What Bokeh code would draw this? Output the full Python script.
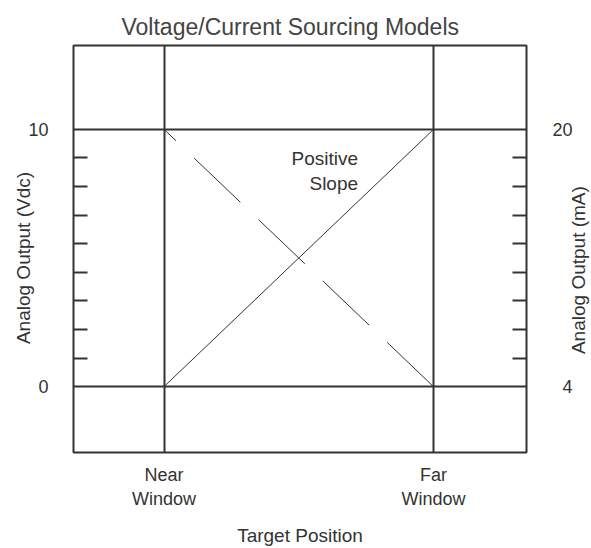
import math
import numpy as np
from bokeh.plotting import figure
from bokeh.layouts import row
from bokeh.models import Range1d, LinearAxis, FixedTicker, Label
from bokeh.core.properties import value
from bokeh.embed import file_html
from bokeh.resources import INLINE

# ---- data ----
positions = [0, 1]                       # Near window, Far window
position_labels = ["Near\nWindow", "Far\nWindow"]
volt_ticks = [0, 10]                     # Vdc
volt_labels = ["0", "10"]
ma_ticks = [4, 20]                       # mA
ma_labels = ["4", "20"]
positive_slope_x = [0, 1]
positive_slope_y = [0, 10]
negative_slope_x = [1, 0]
negative_slope_y = [0, 10]
note_text = "Positive\nSlope"
note_x = [0.72]
note_y = [8.39]

FONT = "Liberation Sans"
DARK = "#333333"

X_LO, X_HI = -0.336, 1.345
Y_LO, Y_HI = -2.56, 13.26
y_range = Range1d(Y_LO, Y_HI)

# ---- main chart ----
p = figure(width=457, height=548,
           min_border_left=2, min_border_right=2, min_border_top=45, min_border_bottom=95,
           x_range=Range1d(X_LO, X_HI), y_range=y_range,
           output_backend="svg", toolbar_location=None, tools="",
           x_axis_location=None, y_axis_location=None,
           title="Voltage/Current Sourcing Models")

p.background_fill_color = "white"
p.border_fill_color = "white"
p.outline_line_color = DARK
p.outline_line_width = 2

p.title.text_font = FONT
p.title.text_font_size = "23px"
p.title.text_font_style = "normal"
p.title.text_color = "#444444"
p.title.align = "left"
p.title.offset = 48
p.title.standoff = 12

# mA scale shares the same pixel positions: 4 mA <-> 0 V, 20 mA <-> 10 V
scale = (ma_ticks[1] - ma_ticks[0]) / (volt_ticks[1] - volt_ticks[0])
p.extra_y_ranges = {"ma": Range1d(ma_ticks[0] + Y_LO * scale, ma_ticks[0] + Y_HI * scale)}

v_minor = list(np.linspace(volt_ticks[0], volt_ticks[1], 10)[1:-1])
ma_minor = list(np.linspace(ma_ticks[0], ma_ticks[1], 10)[1:-1])

def style_axis(ax):
    ax.axis_line_color = None
    ax.major_tick_in = 0
    ax.major_tick_out = 0
    ax.minor_tick_in = 14
    ax.minor_tick_out = 0
    ax.minor_tick_line_color = DARK
    ax.minor_tick_line_width = 2
    ax.major_label_text_font = FONT
    ax.major_label_text_font_size = "18px"
    ax.major_label_text_color = DARK
    ax.axis_label_text_font = FONT
    ax.axis_label_text_font_size = "19px"
    ax.axis_label_text_font_style = "normal"
    ax.axis_label_text_color = DARK

# vertical axes: only the inward minor ticks are drawn here, their labels sit in the side strips
left = LinearAxis(ticker=FixedTicker(ticks=[], minor_ticks=v_minor))
style_axis(left)
left.major_label_standoff = 0
p.add_layout(left, "left")

right = LinearAxis(y_range_name="ma",
                   ticker=FixedTicker(ticks=[], minor_ticks=ma_minor))
style_axis(right)
right.major_label_standoff = 0
p.add_layout(right, "right")

bottom = LinearAxis(ticker=FixedTicker(ticks=positions),
                    axis_label="Target Position")
style_axis(bottom)
bottom.minor_tick_in = 0
bottom.major_label_overrides = {k: v for k, v in zip(positions, position_labels)}
bottom.major_label_standoff = 12
bottom.axis_label_standoff = 13
p.add_layout(bottom, "below")

p.xgrid.ticker = FixedTicker(ticks=positions)
p.ygrid.ticker = FixedTicker(ticks=volt_ticks)
for g in (p.xgrid, p.ygrid):
    g.grid_line_color = DARK
    g.grid_line_width = 2
    g.grid_line_alpha = 1

p.line(positive_slope_x, positive_slope_y, line_color=DARK, line_width=1)
p.line(negative_slope_x, negative_slope_y, line_color=DARK, line_width=1, line_dash="64 25")

p.add_layout(Label(x=note_x[0], y=note_y[0], text=note_text, text_align="right",
                   text_baseline="middle", text_font=FONT, text_font_size="19px",
                   text_color=DARK))

# ---- side strips carrying tick labels and axis titles ----
def strip(width):
    s = figure(width=width, height=548, x_range=Range1d(0, width), y_range=y_range,
               min_border_left=0, min_border_right=0, min_border_top=45, min_border_bottom=95,
               output_backend="svg", toolbar_location=None, tools="",
               x_axis_location=None, y_axis_location=None)
    s.outline_line_color = None
    s.background_fill_color = "white"
    s.border_fill_color = "white"
    s.xgrid.visible = False
    s.ygrid.visible = False
    return s

left_strip = strip(71)
left_strip.text(x=[48] * len(volt_ticks), y=volt_ticks, text=volt_labels,
                text_align="right", text_baseline="middle", text_font=value(FONT),
                text_font_size="18px", text_color=DARK)
left_strip.add_layout(Label(x=22.5, y=5.0, text="Analog Output (Vdc)", angle=math.pi / 2,
                            text_align="center", text_baseline="middle", text_font=FONT,
                            text_font_size="19px", text_color=DARK))

right_strip = strip(63)
right_strip.text(x=[44] * len(ma_ticks), y=volt_ticks, text=ma_labels,
                 text_align="right", text_baseline="middle", text_font=value(FONT),
                 text_font_size="18px", text_color=DARK)
right_strip.add_layout(Label(x=50, y=4.53, text="Analog Output (mA)", angle=math.pi / 2,
                             text_align="center", text_baseline="middle", text_font=FONT,
                             text_font_size="19px", text_color=DARK))

layout = row(left_strip, p, right_strip, spacing=0)

open("out.html", "w").write(file_html(layout, INLINE))
